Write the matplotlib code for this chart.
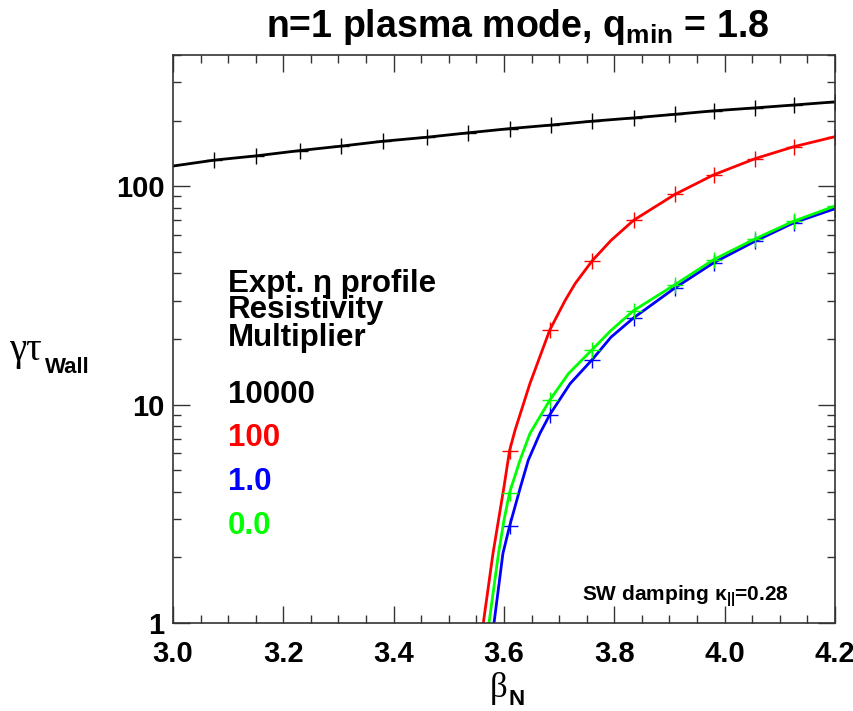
import matplotlib
matplotlib.use("Agg")
import matplotlib.pyplot as plt
from matplotlib.ticker import MultipleLocator, LogLocator, NullFormatter, FixedLocator, FixedFormatter

# beta_N scan, growth rate gamma*tau_wall
beta_black = [3.0, 3.075, 3.15, 3.23, 3.305, 3.38, 3.46, 3.535, 3.61, 3.685,
              3.76, 3.835, 3.91, 3.98, 4.055, 4.125, 4.2]
gamma_black = [124, 132, 138, 146, 153, 161, 168, 176, 184, 191,
               199, 206, 214, 222, 229, 236, 244]

# computed points (markers) for the lower resistivity multipliers
beta_pts = [3.61, 3.683, 3.76, 3.835, 3.91, 3.98, 4.055, 4.125, 4.2]
gamma_red = [6.15, 22.0, 45.7, 70, 92, 113, 134, 152, 169]
gamma_green = [3.95, 10.5, 17.9, 27, 35.5, 46.2, 57.5, 69.3, 81.3]
gamma_blue = [2.77, 9.0, 16.1, 25, 34.3, 44.7, 56.1, 68.1, 79.1]

# fitted curves through the marker points
red_line_x = [3.5625, 3.580, 3.600, 3.610, 3.620, 3.647, 3.683, 3.711, 3.729,
              3.76, 3.794, 3.835, 3.91, 3.98, 4.055, 4.125, 4.2]
red_line_y = [1.0, 2.08, 4.21, 6.15, 7.64, 12.5, 22.0, 30.1, 35.9,
              45.7, 56.6, 70, 92, 113, 134, 152, 169]
green_line_x = [3.5728, 3.590, 3.600, 3.610, 3.629, 3.647, 3.683, 3.717, 3.76,
                3.794, 3.835, 3.91, 3.98, 4.055, 4.125, 4.2]
green_line_y = [1.0, 2.08, 2.96, 3.95, 5.57, 7.38, 10.5, 13.9, 17.9,
                21.9, 27, 35.5, 46.2, 57.5, 69.3, 81.3]
blue_line_x = [3.5819, 3.598, 3.610, 3.630, 3.644, 3.665, 3.683, 3.720, 3.76,
               3.794, 3.835, 3.91, 3.98, 4.055, 4.125, 4.2]
blue_line_y = [1.0, 2.08, 2.77, 4.21, 5.57, 7.38, 9.0, 12.5, 16.1,
               20.4, 25, 34.3, 44.7, 56.1, 68.1, 79.1]

x_ticks = [3.0, 3.2, 3.4, 3.6, 3.8, 4.0, 4.2]
y_ticks = [1, 10, 100]

plt.rcParams['font.family'] = ['Liberation Sans', 'DejaVu Sans']
plt.rcParams['font.weight'] = 'bold'
plt.rcParams['mathtext.fontset'] = 'custom'
plt.rcParams['mathtext.rm'] = 'Liberation Sans:bold'
plt.rcParams['mathtext.bf'] = 'Liberation Sans:bold'
plt.rcParams['mathtext.default'] = 'bf'

W, H = 854, 711
fig = plt.figure(figsize=(W / 100, H / 100), dpi=100)
ax = fig.add_axes([173 / W, 1 - 623 / H, 662 / W, 568 / H])

lw = 2.0
ms = 12
ax.plot(beta_black, gamma_black, color='black', lw=lw)
ax.plot(beta_black[1:], gamma_black[1:], ls='none', marker='+', ms=ms, mew=1.0, color='black')

for lx, ly, py, c in [(red_line_x, red_line_y, gamma_red, '#ff0000'),
                      (blue_line_x, blue_line_y, gamma_blue, '#0000ff'),
                      (green_line_x, green_line_y, gamma_green, '#00ff00')]:
    ax.plot(lx, ly, color=c, lw=lw, solid_joinstyle='round')
    ax.plot(beta_pts, py, ls='none', marker='+', ms=ms, mew=1.0, color=c)

ax.set_yscale('log')
ax.set_xlim(3.0, 4.2)
ax.set_ylim(1, 400)

ax.xaxis.set_major_locator(FixedLocator(x_ticks))
ax.xaxis.set_major_formatter(FixedFormatter(['%.1f' % v for v in x_ticks]))
ax.xaxis.set_minor_locator(MultipleLocator(0.05))
ax.yaxis.set_major_locator(FixedLocator(y_ticks))
ax.yaxis.set_major_formatter(FixedFormatter([str(v) for v in y_ticks]))
ax.yaxis.set_minor_locator(LogLocator(base=10, subs=range(2, 10)))
ax.yaxis.set_minor_formatter(NullFormatter())

ax.tick_params(which='both', direction='in', top=True, right=True,
               color='#333333', width=1.0, labelsize=21)
ax.tick_params(which='major', length=12)
ax.tick_params(which='minor', length=6)
ax.tick_params(axis='x', pad=12)
ax.tick_params(axis='y', pad=6)
for s in ax.spines.values():
    s.set_color('#333333')
    s.set_linewidth(1.2)

# title
fig.text(518 / W, 1 - 37 / H, r'n=1 plasma mode, q$_{\mathbf{min}}$ = 1.8',
         ha='center', va='baseline', fontsize=27, fontweight='bold')

# axis labels
fig.text(9 / W, 1 - 360 / H, 'γτ', family='Liberation Serif', fontweight='normal',
         fontsize=28, ha='left', va='baseline')
fig.text(45 / W, 1 - 373 / H, 'Wall', fontsize=16, fontweight='bold',
         ha='left', va='baseline')
fig.text(490 / W, 1 - 697 / H, 'β', family='Liberation Serif', fontweight='normal',
         fontsize=25, ha='left', va='baseline')
fig.text(509 / W, 1 - 705 / H, 'N', fontsize=16, fontweight='bold',
         ha='left', va='baseline')

# legend text
tx = 228 / W
for txt, yb in [('Expt. η profile', 291.7), ('Resistivity', 318.3), ('Multiplier', 346)]:
    fig.text(tx, 1 - yb / H, txt, fontsize=22.5, fontweight='bold', ha='left', va='baseline')
for txt, yb, c in [('10000', 402.7, 'black'), ('100', 446, '#ff0000'),
                   ('1.0', 490, '#0000ff'), ('0.0', 534, '#00ff00')]:
    fig.text(tx, 1 - yb / H, txt, fontsize=22.5, fontweight='bold', color=c,
             ha='left', va='baseline')

fig.text(581.7 / W, 1 - 600.7 / H, r'SW damping κ$_{\mathbf{||}}$=0.28',
         fontsize=15, fontweight='bold', ha='left', va='baseline')

fig.savefig('out.png', dpi=100)
